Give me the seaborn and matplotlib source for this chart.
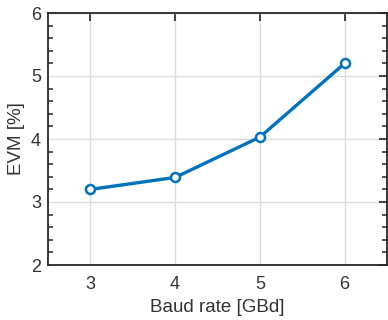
import matplotlib
matplotlib.use("Agg")
import matplotlib.pyplot as plt
import seaborn as sns
import pandas as pd
from matplotlib.ticker import MultipleLocator

baud_rate = [3, 4, 5, 6]
evm = [3.2, 3.39, 4.03, 5.2]
x_ticks = [3, 4, 5, 6]
y_ticks = [2, 3, 4, 5, 6]

df = pd.DataFrame({"baud": baud_rate, "evm": evm})

sns.set_theme(style="white")
plt.rcParams['font.family'] = ['Liberation Sans', 'DejaVu Sans']

fig = plt.figure(figsize=(3.88, 3.2), dpi=100)
ax = fig.add_axes([48/388, 1 - 265/320, (387-48)/388, (265-13)/320])

sns.lineplot(data=df, x="baud", y="evm", ax=ax, color="#0072BD", linewidth=2.4,
             marker="o", markersize=6.5, markerfacecolor="white",
             markeredgecolor="#0072BD", markeredgewidth=1.8)

ax.set_xlim(2.5, 6.5)
ax.set_ylim(2, 6)
ax.set_xticks(x_ticks)
ax.set_yticks(y_ticks)
ax.yaxis.set_minor_locator(MultipleLocator(0.2))
ax.grid(True, which="major", color="#dcdcdc", linewidth=1.0)
ax.set_axisbelow(True)
for s in ax.spines.values():
    s.set_color("#262626")
    s.set_linewidth(1.3)
    s.set_visible(True)
ax.tick_params(axis="both", which="major", direction="in", length=5.8, width=1.3,
               top=True, right=True, labelsize=13, colors="#333333")
ax.tick_params(axis="y", which="major", pad=5)
ax.tick_params(axis="y", which="minor", direction="in", length=3.6, width=1.1,
               left=True, right=True, colors="#262626")
ax.tick_params(axis="x", which="major", pad=8)
ax.set_xlabel("Baud rate [GBd]", fontsize=13.5, color="#333333", labelpad=4)
ax.set_ylabel("EVM [%]", fontsize=13.5, color="#333333", labelpad=4)

fig.savefig("out.png", dpi=100)
